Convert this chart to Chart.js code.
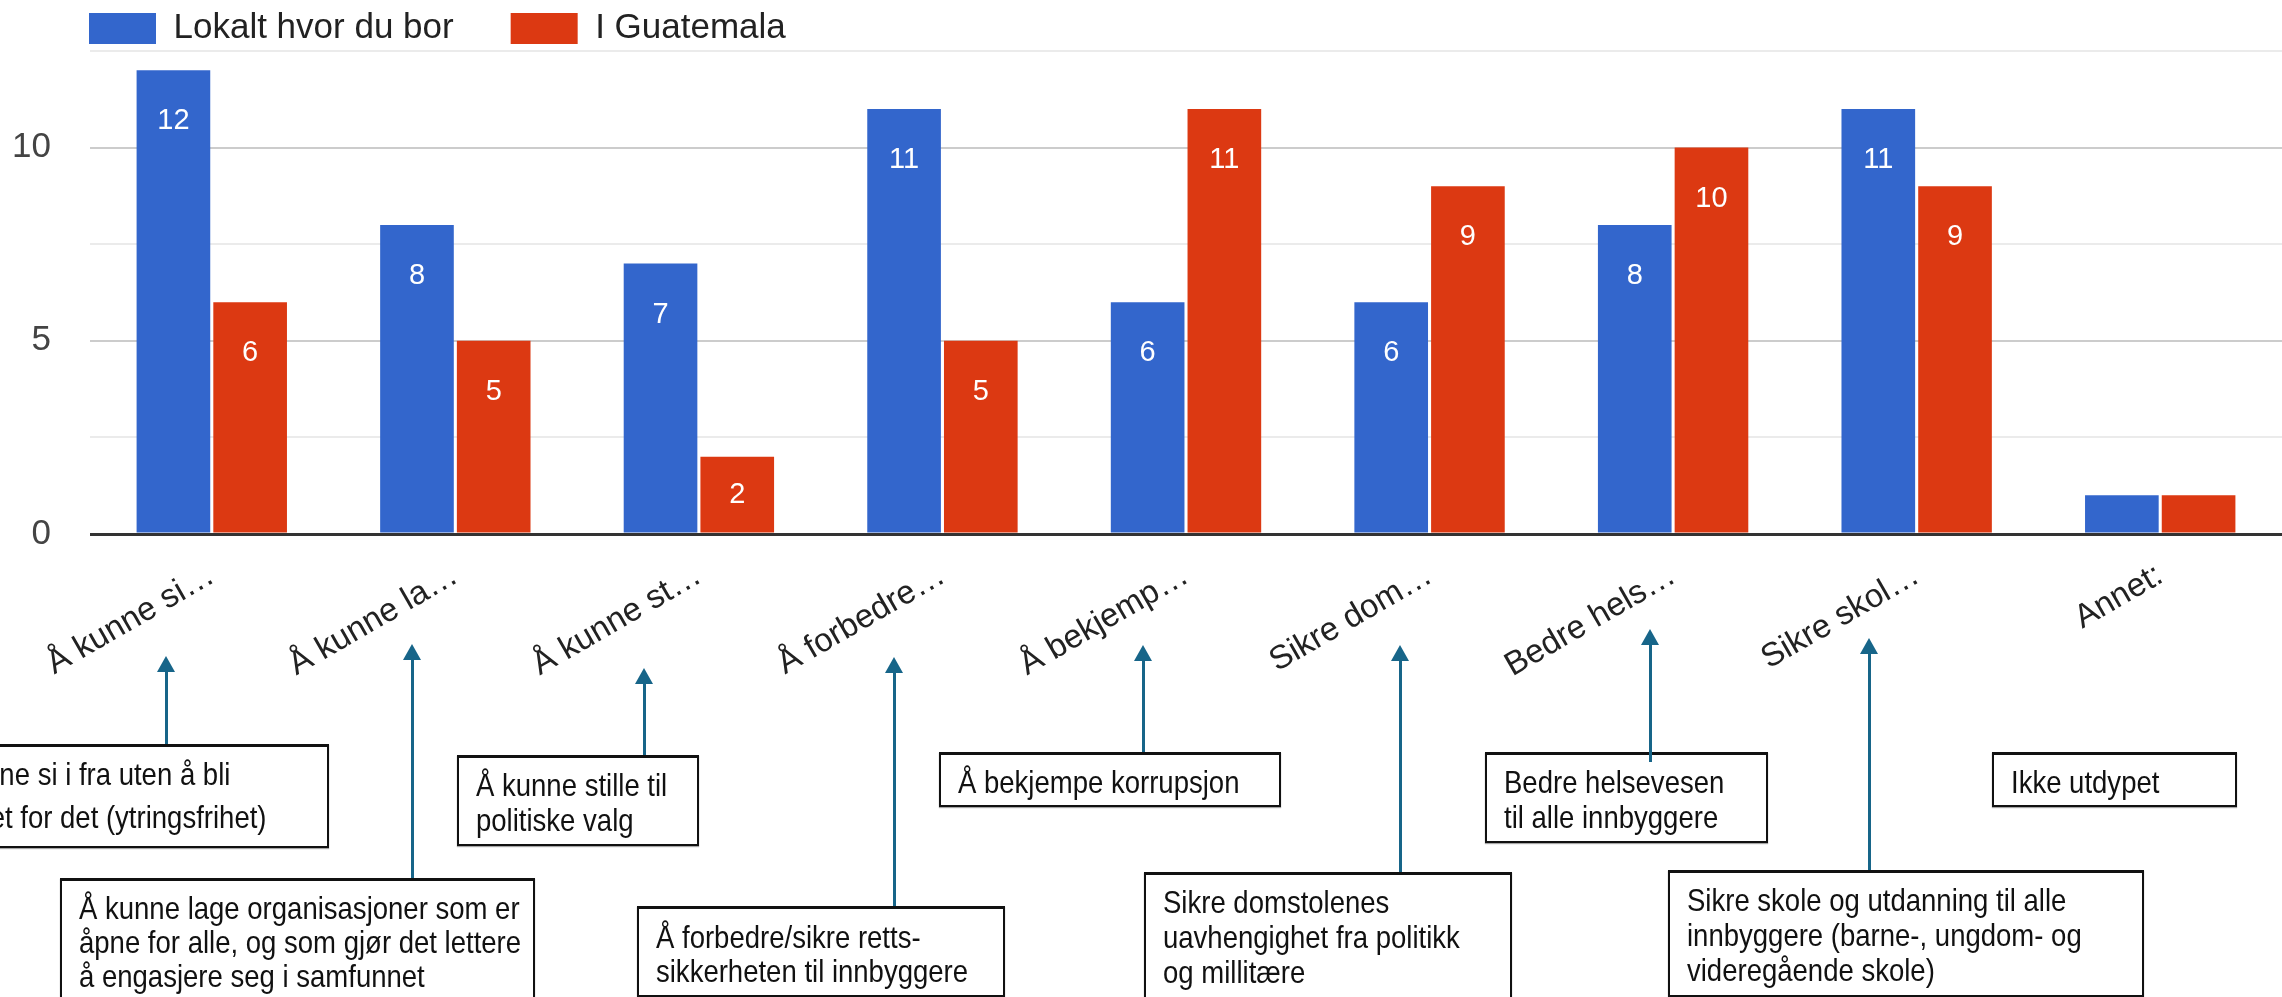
<!DOCTYPE html>
<html>
<head>
<meta charset="utf-8">
<script src="https://cdn.jsdelivr.net/npm/chart.js@4.4.1/dist/chart.umd.min.js"></script>
<style>
  html, body { margin: 0; padding: 0; background: #fff; }
  #wrap { position: relative; width: 2282px; height: 997px; overflow: hidden; background: #fff; }
  #c { position: absolute; left: 0; top: 0; }
  .box { position: absolute; box-sizing: border-box; border: 2.5px solid #111; border-top-width: 3px; background: #fff;
         font-family: "Liberation Sans", Arial, sans-serif;
         font-size: 32px; color: #111; padding-left: 17px; white-space: nowrap;
         box-shadow: 0 1px 1px rgba(0,0,0,0.35); }
  .box span { display: inline-block; transform: scaleX(0.86); transform-origin: 0 50%; }
  .arrow { position: absolute; width: 3px; background: #176589; }
  .arrow::before { content: ""; position: absolute; left: -7.5px; top: -15px; width: 0; height: 0;
         border-left: 9px solid transparent; border-right: 9px solid transparent; border-bottom: 16px solid #176589; }
</style>
</head>
<body>
<div id="wrap">
  <canvas id="c" width="2282" height="997" style="width:2282px;height:997px"></canvas>
</div>
<script>
const categories = ["Å kunne si…", "Å kunne la…", "Å kunne st…", "Å forbedre…", "Å bekjemp…", "Sikre dom…", "Bedre hels…", "Sikre skol…", "Annet:"];
const seriesNames = ["Lokalt hvor du bor", "I Guatemala"];
const lokalt = [12, 8, 7, 11, 6, 6, 8, 11, 1];
const guatemala = [6, 5, 2, 5, 11, 9, 10, 9, 1];
const yTicks = [0, 5, 10];

const annotationTexts = [
  ["Å kunne si i fra uten å bli", "straffet for det (ytringsfrihet)"],
  ["Å kunne lage organisasjoner som er", "åpne for alle, og som gjør det lettere", "å engasjere seg i samfunnet"],
  ["Å kunne stille til", "politiske valg"],
  ["Å forbedre/sikre retts-", "sikkerheten til innbyggere"],
  ["Å bekjempe korrupsjon"],
  ["Sikre domstolenes", "uavhengighet fra politikk", "og millitære"],
  ["Bedre helsevesen", "til alle innbyggere"],
  ["Sikre skole og utdanning til alle", "innbyggere (barne-, ungdom- og", "videregående skole)"],
  ["Ikke utdypet"]
];
// layout of annotation boxes: left, top, width, height, line-height, padding-top
const boxLayout = [
  [-90, 744, 419, 104, 43, 6],
  [60, 878, 475, 160, 34, 10],
  [457, 755, 242, 91, 35, 10],
  [637, 906, 368, 91, 34, 11],
  [939, 752, 342, 55, 35, 10],
  [1144, 872, 368, 160, 35, 10],
  [1485, 752, 283, 91, 35, 10],
  [1668, 870, 476, 127, 35, 10],
  [1992, 752, 245, 55, 35, 10]
];
// arrows: x, tip y, bottom y
const arrowLayout = [
  [166, 656, 744], [412, 644, 878], [644, 668, 755], [894, 657, 906],
  [1143, 645, 752], [1400, 645, 872], [1650, 629, 762], [1869, 638, 870]
];

const wrap = document.getElementById('wrap');
annotationTexts.forEach((lines, i) => {
  const [l, t, w, h, lh, pt] = boxLayout[i];
  const d = document.createElement('div');
  d.className = 'box';
  d.style.left = l + 'px'; d.style.top = t + 'px';
  d.style.width = w + 'px'; d.style.height = h + 'px';
  d.style.lineHeight = lh + 'px'; d.style.paddingTop = pt + 'px';
  lines.forEach(s => {
    const p = document.createElement('div');
    const sp = document.createElement('span');
    sp.textContent = s;
    p.appendChild(sp);
    d.appendChild(p);
  });
  wrap.appendChild(d);
});
arrowLayout.forEach(([x, tip, bot]) => {
  const a = document.createElement('div');
  a.className = 'arrow';
  a.style.left = (x - 1.5) + 'px';
  a.style.top = (tip + 15) + 'px';
  a.style.height = (bot - tip - 15) + 'px';
  wrap.appendChild(a);
});

const FONT = '"Liberation Sans", Arial, sans-serif';

const layoutTweaks = {
  id: 'layoutTweaks',
  beforeInit(chart) {
    const lg = chart.legend;
    if (lg) {
      const orig = lg.fit;
      lg.fit = function () { orig.call(this); this.height = 51; };
    }
  },
  afterLayout(chart) {
    const lg = chart.legend;
    if (lg) { lg.left = 32; lg.top = -46; }
  }
};

const valueLabels = {
  id: 'valueLabels',
  afterDatasetsDraw(chart) {
    const ctx = chart.ctx;
    ctx.save();
    ctx.fillStyle = '#ffffff';
    ctx.font = '29px ' + FONT;
    ctx.textAlign = 'center';
    ctx.textBaseline = 'middle';
    chart.data.datasets.forEach((ds, di) => {
      const meta = chart.getDatasetMeta(di);
      meta.data.forEach((bar, i) => {
        const v = ds.data[i];
        const h = bar.base - bar.y;
        if (h < 60) return;
        const off = Math.min(51, h / 2);
        ctx.fillText(String(v), bar.x, bar.y + off);
      });
    });
    ctx.restore();
  }
};

new Chart(document.getElementById('c'), {
  type: 'bar',
  data: {
    labels: categories,
    datasets: [
      { label: seriesNames[0], data: lokalt, backgroundColor: '#3366cc', borderWidth: 0 },
      { label: seriesNames[1], data: guatemala, backgroundColor: '#dc3912', borderWidth: 0 }
    ]
  },
  options: {
    responsive: false,
    animation: false,
    devicePixelRatio: 1,
    layout: { padding: 0 },
    categoryPercentage: 0.63,
    barPercentage: 0.96,
    plugins: {
      legend: {
        display: true,
        position: 'top',
        align: 'start',
        labels: {
          boxWidth: 67, boxHeight: 31, padding: 57,
          color: '#222', font: { family: FONT, size: 35 }
        }
      },
      tooltip: { enabled: false }
    },
    scales: {
      x: {
        grid: { display: false, drawTicks: false },
        border: { display: false },
        ticks: {
          color: '#222', font: { family: FONT, size: 33 },
          maxRotation: 30, minRotation: 30, padding: 22, autoSkip: false
        },
        afterFit(scale) { scale.height = 463; }
      },
      y: {
        min: 0, max: 12.5,
        border: { display: false },
        grid: {
          drawTicks: false,
          color: (c) => {
            const v = c.tick.value;
            if (v === 0) return '#333333';
            if (yTicks.includes(v)) return '#cccccc';
            return '#ebebeb';
          },
          lineWidth: (c) => (c.tick.value === 0 ? 3 : 2)
        },
        ticks: {
          stepSize: 2.5, padding: 39,
          color: '#444', font: { family: FONT, size: 35 },
          callback: (v) => (yTicks.includes(v) ? String(v) : '')
        },
        afterFit(scale) { scale.width = 90; scale.paddingTop = 0; scale.paddingBottom = 0; }
      }
    }
  },
  plugins: [layoutTweaks, valueLabels]
});
</script>
</body>
</html>
